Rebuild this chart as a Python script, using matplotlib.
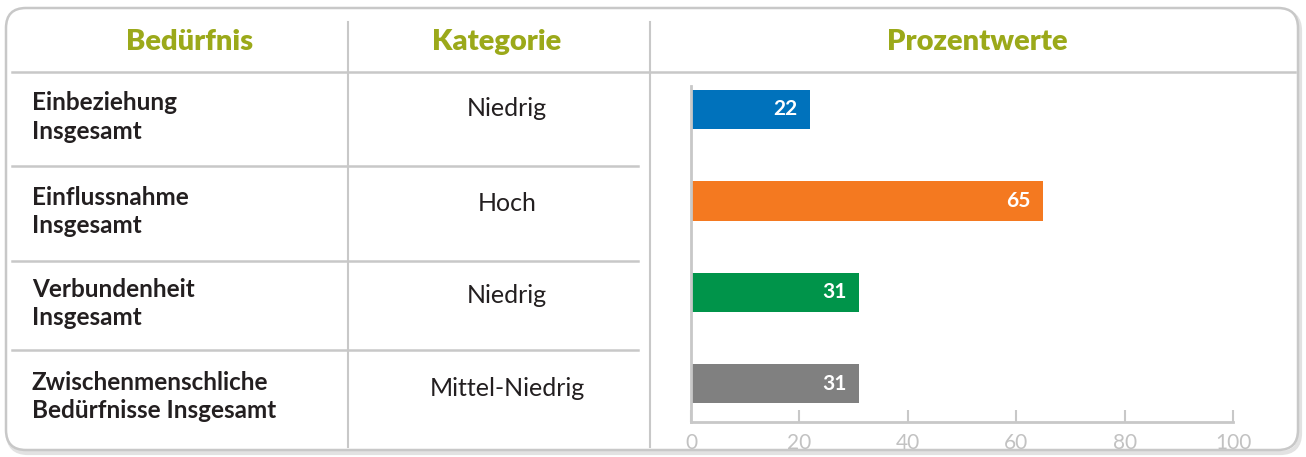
import matplotlib
matplotlib.use("Agg")
import matplotlib.pyplot as plt
from matplotlib.patches import FancyBboxPatch
from matplotlib.lines import Line2D

plt.rcParams['font.family'] = ['Lato', 'DejaVu Sans']

# data
headers = ["Bedürfnis", "Kategorie", "Prozentwerte"]
needs = ["Einbeziehung\nInsgesamt", "Einflussnahme\nInsgesamt",
         "Verbundenheit\nInsgesamt", "Zwischenmenschliche\nBedürfnisse Insgesamt"]
categories = ["Niedrig", "Hoch", "Niedrig", "Mittel-Niedrig"]
values = [22, 65, 31, 31]
bar_colors = ["#0072BC", "#F47920", "#00944A", "#808080"]
xticks = [0, 20, 40, 60, 80, 100]

W, H = 1306, 457
fig = plt.figure(figsize=(W / 100, H / 100), dpi=100)

# background axes in pixel units (y down)
bg = fig.add_axes([0, 0, 1, 1], zorder=0)
bg.set_xlim(0, W)
bg.set_ylim(H, 0)
bg.axis("off")

grid_c = "#C8C8C8"
# shadow + rounded frame
bg.add_patch(FancyBboxPatch((8, 11), 1292, 442, boxstyle="round,pad=0,rounding_size=20",
                            fc="none", ec="#E2E2E2", lw=3))
bg.add_patch(FancyBboxPatch((6, 8), 1292, 442, boxstyle="round,pad=0,rounding_size=20",
                            fc="white", ec=grid_c, lw=1.8))

# table lines
bg.add_line(Line2D([12, 1295], [72, 72], color=grid_c, lw=1.8))
for x in (348, 650):
    bg.add_line(Line2D([x, x], [22, 447], color=grid_c, lw=1.5))
row_bounds = [72, 166, 261, 350, 447]
for y in row_bounds[1:-1]:
    bg.add_line(Line2D([12, 638], [y, y], color=grid_c, lw=1.8))

# headers
head_c = "#9BA91A"
for txt, x in zip(headers, (190, 497, 977)):
    bg.text(x, 42, txt, ha="center", va="center", fontsize=21, fontweight="heavy", color=head_c)

# row texts
for i, (need, cat) in enumerate(zip(needs, categories)):
    yc = (row_bounds[i] + row_bounds[i + 1]) / 2
    bg.text(32, yc - 2, need, ha="left", va="center", fontsize=17.5, fontweight="bold",
            color="#231F20", linespacing=1.3)
    bg.text(507, yc - 10, cat, ha="center", va="center", fontsize=18, color="#231F20")

# bar chart axes
x0, x1 = 691, 1233
ytop, ybot = 86, 422
ax = fig.add_axes([x0 / W, 1 - ybot / H, (x1 - x0) / W, (ybot - ytop) / H], zorder=1)
ax.patch.set_alpha(0)
pos = list(range(len(values)))
bars = ax.barh(pos, values, height=0.43, color=bar_colors)
ax.set_xlim(0, 100)
ax.set_ylim(3.42, -0.257)
for b, v in zip(bars, values):
    ax.text(b.get_width() - 2.3, b.get_y() + b.get_height() / 2, str(v), ha="right", va="center",
            color="white", fontsize=15, fontweight="bold")

for s in ("top", "right"):
    ax.spines[s].set_visible(False)
for s in ("left", "bottom"):
    ax.spines[s].set_color(grid_c)
    ax.spines[s].set_linewidth(2)
ax.set_yticks([])
ax.set_xticks(xticks)
ax.tick_params(axis="x", direction="in", length=9, width=1.5, color=grid_c,
               labelcolor="#C2C2C2", labelsize=15, pad=8)

fig.savefig("out.png", dpi=100)
